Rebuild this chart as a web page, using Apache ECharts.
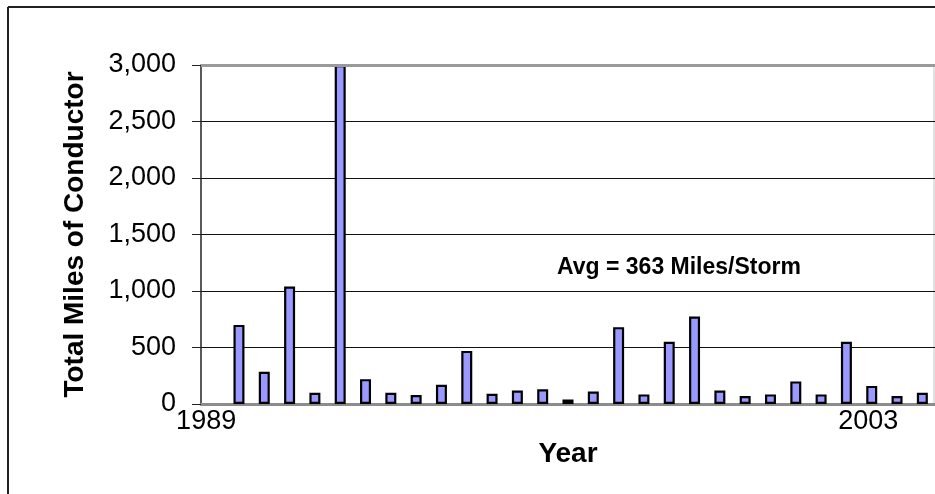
<!DOCTYPE html>
<html>
<head>
<meta charset="utf-8">
<script src="https://cdn.jsdelivr.net/npm/echarts@6/dist/echarts.min.js"></script>
<style>
  html, body { margin: 0; padding: 0; background: #fff; }
  #chart { width: 935px; height: 494px; }
</style>
</head>
<body>
<div id="chart"></div>
<script>
  // storms, one slot each; only two slots carry a year label
  var stormLabels = ['1989', '', '', '', '', '', '', '', '', '', '', '', '', '', '', '', '', '', '', '', '', '', '', '', '', '', '2003', '', ''];
  // miles of conductor per storm (first slot is empty)
  var milesPerStorm = [null, 700, 285, 1040, 100, 3000, 220, 100, 80, 170, 470, 90, 120, 130, 40, 110, 680, 85, 550, 775, 120, 70, 85, 200, 85, 550, 160, 70, 100];
  var yTicks = [0, 500, 1000, 1500, 2000, 2500, 3000];
  var avgText = 'Avg = 363 Miles/Storm';

  var font = 'Liberation Sans, Arial, sans-serif';
  var chart = echarts.init(document.getElementById('chart'));

  var option = {
    animation: false,
    grid: {left: 201, right: 0, top: 65, bottom: 90, containLabel: false},
    xAxis: {
      type: 'category',
      data: stormLabels,
      name: 'Year',
      nameLocation: 'middle',
      nameGap: 36,
      nameTextStyle: {fontFamily: font, fontSize: 28, fontWeight: 'bold', color: '#000', verticalAlign: 'top'},
      axisLine: {show: true, lineStyle: {color: '#8c8c8c', width: 3}},
      axisTick: {show: false},
      axisLabel: {
        interval: 0,
        margin: 4,
        formatter: function (v) {
          if (v === '1989') return '{a|' + v + '}';
          if (v === '2003') return '{b|' + v + '}';
          return '';
        },
        rich: {
          a: {fontFamily: font, fontSize: 27, color: '#000', padding: [0, 15, 0, 0]},
          b: {fontFamily: font, fontSize: 27, color: '#000', padding: [0, 7, 0, 0]}
        }
      },
      splitLine: {show: false}
    },
    yAxis: {
      type: 'value',
      min: yTicks[0],
      max: yTicks[yTicks.length - 1],
      interval: 500,
      name: 'Total Miles of Conductor',
      nameLocation: 'middle',
      nameGap: 112,
      nameTextStyle: {fontFamily: font, fontSize: 28, fontWeight: 'bold', color: '#000'},
      axisLine: {show: true, lineStyle: {color: '#222', width: 1.5}},
      axisTick: {show: true, inside: false, length: 9, lineStyle: {color: '#222'}},
      axisLabel: {
        margin: 25,
        fontFamily: font,
        fontSize: 27,
        color: '#000',
        formatter: function (v) { return v.toLocaleString('en-US'); }
      },
      splitLine: {show: true, lineStyle: {color: '#111', width: 1}}
    },
    series: [
      {
        type: 'bar',
        data: milesPerStorm,
        barWidth: 11,
        itemStyle: {color: '#9999ff', borderColor: '#000', borderWidth: 2.2},
        markLine: {
          silent: true,
          symbol: 'none',
          label: {show: false},
          lineStyle: {color: '#9a9a9a', width: 3, type: 'solid'},
          data: [{yAxis: 3000}]
        }
      }
    ],
    graphic: [
      {type: 'line', shape: {x1: 8, y1: 7, x2: 935, y2: 7}, style: {stroke: '#222', lineWidth: 2}},
      {type: 'line', shape: {x1: 8, y1: 7, x2: 8, y2: 494}, style: {stroke: '#222', lineWidth: 2}},
      {type: 'line', shape: {x1: 934, y1: 65, x2: 934, y2: 404}, style: {stroke: '#d8d8d8', lineWidth: 1.5}},
      {
        type: 'text', left: 557, top: 256,
        style: {text: avgText, fontFamily: font, fontSize: 23, fontWeight: 'bold', fill: '#000'}
      }
    ]
  };

  chart.setOption(option);
  window.addEventListener('resize', function () {
    chart.resize();
  });
</script>
</body>
</html>
